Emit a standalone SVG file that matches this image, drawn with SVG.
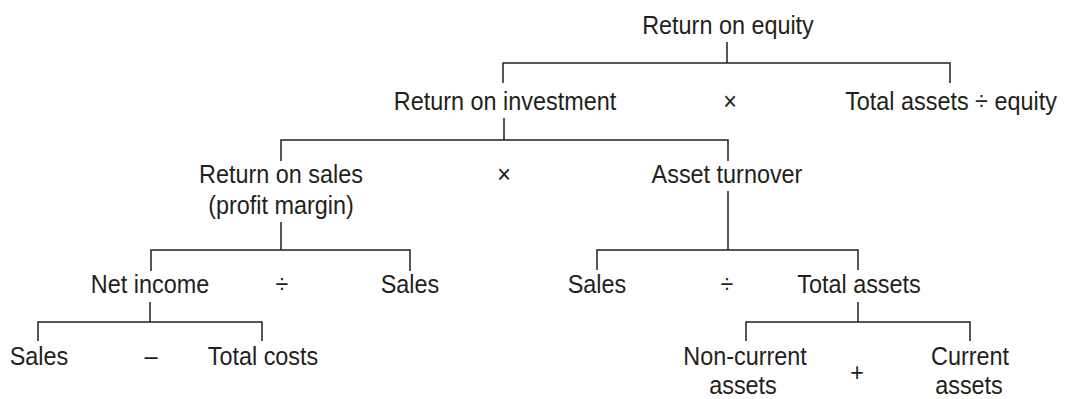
<svg xmlns="http://www.w3.org/2000/svg" width="1069" height="399" viewBox="0 0 1069 399">
<style>
text{font-family:"Liberation Sans",Arial,sans-serif;font-size:26px;fill:#231f20;text-anchor:middle}
.c path{fill:none;stroke:#231f20;stroke-width:1.5}
</style>
<rect width="1069" height="399" fill="#fff"/>
<g class="c" id="connectors">
<path d="M727 42V63M503 83V63H950V83"/>
<path d="M504 118V140M281 161V140H728V161"/>
<path d="M281 222V250M151 271V250H410V271"/>
<path d="M728 191V250M597 270V250H858V270"/>
<path d="M150 302V322M38 341V322H262V341"/>
<path d="M858 302V322M746 341V322H970V341"/>
</g>
<g id="roe"><text transform="translate(728,34) scale(0.9,1)">Return on equity</text></g>
<g id="roi"><text transform="translate(505,110) scale(0.9,1)">Return on investment</text></g>
<g id="op1"><text transform="translate(730,110) scale(0.9,1)">×</text></g>
<g id="tae"><text transform="translate(951,110) scale(0.9,1)">Total assets ÷ equity</text></g>
<g id="ros"><text transform="translate(281,183) scale(0.9,1)">Return on sales</text><text transform="translate(281,214) scale(0.9,1)">(profit margin)</text></g>
<g id="op2"><text transform="translate(504,183) scale(0.9,1)">×</text></g>
<g id="at"><text transform="translate(727,183) scale(0.9,1)">Asset turnover</text></g>
<g id="ni"><text transform="translate(150,293) scale(0.9,1)">Net income</text></g>
<g id="op3"><text transform="translate(282,293) scale(0.9,1)">÷</text></g>
<g id="sales1"><text transform="translate(410,293) scale(0.9,1)">Sales</text></g>
<g id="sales2"><text transform="translate(597,293) scale(0.9,1)">Sales</text></g>
<g id="op4"><text transform="translate(727,293) scale(0.9,1)">÷</text></g>
<g id="ta"><text transform="translate(859,293) scale(0.9,1)">Total assets</text></g>
<g id="sales3"><text transform="translate(39,365) scale(0.9,1)">Sales</text></g>
<g id="op5"><text transform="translate(151,365) scale(0.9,1)">–</text></g>
<g id="tc"><text transform="translate(263,365) scale(0.9,1)">Total costs</text></g>
<g id="nca"><text transform="translate(745,365) scale(0.9,1)">Non-current</text><text transform="translate(743,394) scale(0.9,1)">assets</text></g>
<g id="op6"><text transform="translate(857,381) scale(0.9,1)">+</text></g>
<g id="ca"><text transform="translate(970,365) scale(0.9,1)">Current</text><text transform="translate(969,394) scale(0.9,1)">assets</text></g>
</svg>
